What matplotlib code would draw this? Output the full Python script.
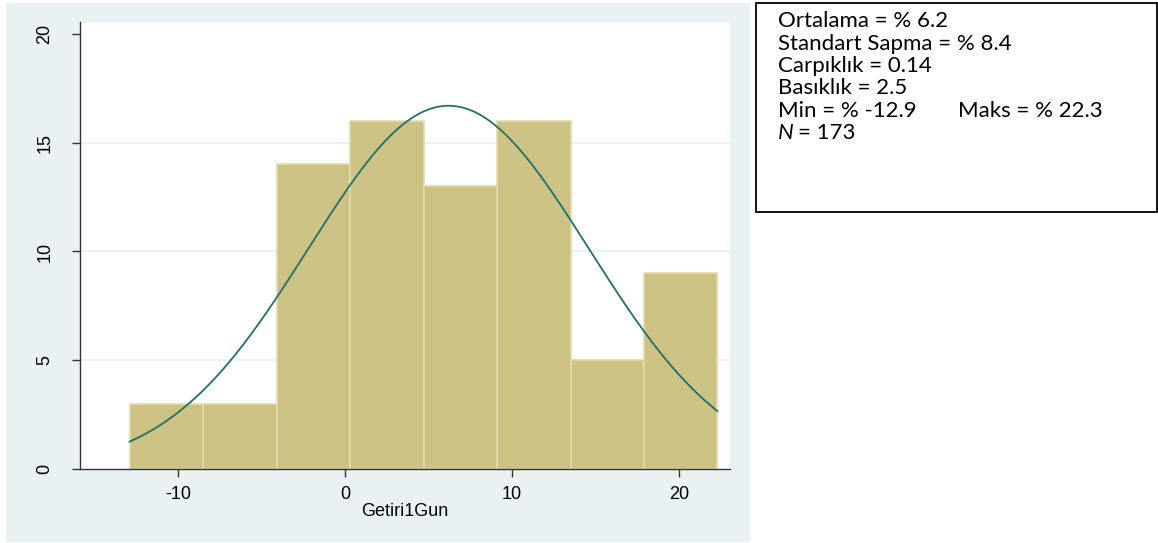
import numpy as np
import matplotlib
matplotlib.use("Agg")
import matplotlib.pyplot as plt
from matplotlib.patches import Rectangle

# veriler
counts = [3, 3, 14, 16, 13, 16, 5, 9]
x_min, x_max = -12.9, 22.3
mean, sd = 6.2, 8.4
curve_peak = 16.7
x_ticks = [-10, 0, 10, 20]
y_ticks = [0, 5, 10, 15, 20]
grid_y = [5, 10, 15]
x_label = "Getiri1Gun"
stats_lines = [
    "Ortalama = % 6.2",
    "Standart Sapma = % 8.4",
    "Carpıklık = 0.14",
    "Basıklık = 2.5",
    "Min = % -12.9",
]
maks_text = "Maks = % 22.3"
n_value = 173

W, H = 1158, 543
fig = plt.figure(figsize=(W / 100, H / 100), dpi=100)
fig.patch.set_facecolor("white")

def fx(px):
    return px / W

def fy(py):
    return 1 - py / H

# sol panel arka plani
fig.patches.append(Rectangle((fx(6), fy(542)), fx(750) - fx(6), fy(3) - fy(542),
                             transform=fig.transFigure, facecolor="#EAF1F3",
                             edgecolor="none", zorder=-1))

ax = fig.add_axes([fx(80), fy(469), fx(730) - fx(80), fy(22) - fy(469)])
ax.set_zorder(2)
ax.set_facecolor("white")

edges = np.linspace(x_min, x_max, len(counts) + 1)
widths = np.diff(edges)
ax.bar(edges[:-1], counts, width=widths, align="edge", color="#CBC283",
       edgecolor="#E2DBAA", linewidth=1.2, zorder=2)

xs = np.linspace(x_min, x_max, 300)
ys = curve_peak * np.exp(-0.5 * ((xs - mean) / sd) ** 2)
ax.plot(xs, ys, color="#236F68", linewidth=1.3, zorder=3)

for g in grid_y:
    ax.axhline(g, color="#E6EEF2", linewidth=1.2, zorder=1)

axis_font = "Liberation Sans"
afs = 13
ax.set_xlim(-15.87, 23.05)
ax.set_ylim(0, 20.55)
ax.set_xticks(x_ticks)
ax.set_yticks(y_ticks)
ax.set_xticklabels([str(t) for t in x_ticks], fontsize=afs, family=axis_font)
ax.set_yticklabels([str(t) for t in y_ticks], fontsize=afs, family=axis_font,
                   rotation=90, va="center")
ax.tick_params(axis="both", direction="out", length=6, width=1, color="#333333")
ax.tick_params(axis="y", pad=13)
ax.tick_params(axis="x", pad=6)
ax.set_xlabel(x_label, fontsize=afs, family=axis_font, labelpad=0)
for s in ["top", "right"]:
    ax.spines[s].set_visible(False)
for s in ["left", "bottom"]:
    ax.spines[s].set_color("#333333")
    ax.spines[s].set_linewidth(1)

# istatistik kutusu
fig.patches.append(Rectangle((fx(756), fy(212)), fx(1157) - fx(756), fy(3) - fy(212),
                             transform=fig.transFigure, facecolor="white",
                             edgecolor="black", linewidth=1.3, zorder=1))

font = "Lato"
fs = 16
row_y = [21, 43.5, 66, 88.5, 111, 133]
for line, py in zip(stats_lines, row_y):
    fig.text(fx(778), fy(py), line, fontsize=fs, family=font, va="center", ha="left")
fig.text(fx(958), fy(row_y[4]), maks_text, fontsize=fs, family=font, va="center", ha="left")
fig.text(fx(778), fy(row_y[5]), "N", fontsize=fs, family=font, style="italic",
         va="center", ha="left")
fig.text(fx(798), fy(row_y[5]), f"= {n_value}", fontsize=fs, family=font,
         va="center", ha="left")

fig.savefig("out.png", dpi=100)
